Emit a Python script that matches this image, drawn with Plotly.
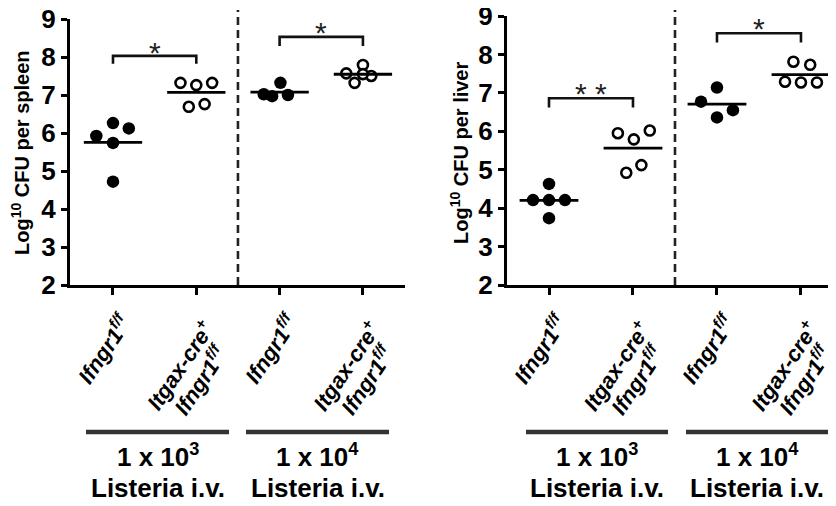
import numpy as np
import plotly.graph_objects as go

# ---------------- data ----------------
categories = ["Ifngr1 f/f (1e3)", "Itgax-cre+ Ifngr1 f/f (1e3)",
              "Ifngr1 f/f (1e4)", "Itgax-cre+ Ifngr1 f/f (1e4)"]
# each category label, one entry per text line
tick_labels = [["Ifngr1<sup>f/f</sup>"],
               ["Itgax-cre<sup>+</sup>", "Ifngr1<sup>f/f</sup>"],
               ["Ifngr1<sup>f/f</sup>"],
               ["Itgax-cre<sup>+</sup>", "Ifngr1<sup>f/f</sup>"]]
y_ticks = [2, 3, 4, 5, 6, 7, 8, 9]

spleen_g1 = [5.92, 6.26, 6.12, 5.74, 4.72]
spleen_g2 = [7.32, 7.26, 7.32, 6.69, 6.76]
spleen_g3 = [7.02, 6.97, 7.32, 7.00]
spleen_g4 = [7.57, 7.79, 7.32, 7.50, 7.55]

liver_g1 = [4.21, 4.21, 4.21, 4.63, 3.74]
liver_g2 = [5.95, 5.79, 6.02, 4.92, 5.12]
liver_g3 = [6.77, 7.14, 6.55, 6.36]
liver_g4 = [7.81, 7.73, 7.29, 7.27, 7.27]

# horizontal scatter spread of the points (layout, in category units)
spleen_jitter = [[-0.20, 0.00, 0.19, 0.00, 0.00],
                 [-0.19, 0.00, 0.19, -0.09, 0.10],
                 [-0.19, -0.09, 0.01, 0.10],
                 [-0.20, 0.00, -0.10, 0.10, 0.00]]
liver_jitter = [[-0.19, 0.00, 0.19, 0.00, 0.00],
                [-0.18, 0.01, 0.20, -0.08, 0.10],
                [-0.19, 0.00, 0.19, 0.00],
                [-0.09, 0.11, -0.19, 0.00, 0.19]]

dose_labels = ["1 x 10<sup>3</sup>", "1 x 10<sup>4</sup>"]
route_label = "Listeria i.v."
significance = [["*", "*"], ["* *", "*"]]

FONT = "Liberation Sans, Arial, sans-serif"
W, H = 836, 506
OFF = 8  # page body margin of the html page

def px2x(px):
    return (px - OFF) / W

def px2y(py):
    return 1 - (py - OFF) / H

fig = go.Figure()

panels = [
    dict(groups=[spleen_g1, spleen_g2, spleen_g3, spleen_g4], jit=spleen_jitter,
         xa="x", ya="y", title="Log<sup>10</sup> CFU per spleen",
         xdom=[px2x(70), px2x(405)], ydom=[px2y(285), px2y(19)],
         xrange=[-0.516, 3.505], title_x=20,
         brackets=[(0, 1, 8.03, 7.82, 8.13), (2, 3, 8.53, 8.29, 8.65)],
         stars=significance[0],
         lines=[(86, 229), (246, 389)]),
    dict(groups=[liver_g1, liver_g2, liver_g3, liver_g4], jit=liver_jitter,
         xa="x2", ya="y2", title="Log<sup>10</sup> CFU per liver",
         xdom=[px2x(507), px2x(836)], ydom=[px2y(285), px2y(16)],
         xrange=[-0.5, 3.417], title_x=459,
         brackets=[(0, 1, 6.86, 6.62, 6.99), (2, 3, 8.55, 8.31, 8.67)],
         stars=significance[1],
         lines=[(526, 668), (686, 828)]),
]

# centre of each label line relative to its tick: (dx px, y px)
single_pos = [(-9, 348)]
double_pos = [(-17, 365), (4, 379)]

shapes = []
annotations = []

for p in panels:
    for gi, vals in enumerate(p["groups"]):
        xs = [gi + j for j in p["jit"][gi]]
        filled = gi % 2 == 0
        fig.add_trace(go.Scatter(
            x=xs, y=vals, mode="markers", xaxis=p["xa"], yaxis=p["ya"],
            marker=dict(size=12.5 if filled else 10,
                        color="black" if filled else "white",
                        line=dict(color="black", width=0 if filled else 2.6)),
            showlegend=False, cliponaxis=False))
        m = float(np.mean(vals))
        fig.add_trace(go.Scatter(
            x=[gi - 0.35, gi + 0.35], y=[m, m], mode="lines",
            xaxis=p["xa"], yaxis=p["ya"],
            line=dict(color="black", width=2.8), showlegend=False))
    # rotated category labels
    for gi, lines in enumerate(tick_labels):
        pos = single_pos if len(lines) == 1 else double_pos
        for txt, (dx, yy) in zip(lines, pos):
            annotations.append(dict(x=gi, y=px2y(yy), xref=p["xa"], yref="paper",
                                    text=txt, textangle=-56, showarrow=False,
                                    xanchor="center", yanchor="middle", xshift=dx,
                                    font=dict(family=FONT, size=22, color="black",
                                              weight="bold", style="italic")))
    # dashed separator
    shapes.append(dict(type="line", xref=p["xa"], yref="paper", x0=1.5, x1=1.5,
                       y0=p["ydom"][0], y1=px2y(10),
                       line=dict(color="#222", width=2.6, dash="8px,5px")))
    # brackets
    for (a, b, top, leg, sy), s in zip(p["brackets"], p["stars"]):
        shapes.append(dict(type="path", xref=p["xa"], yref=p["ya"],
                           path=f"M {a},{leg} L {a},{top} L {b},{top} L {b},{leg}",
                           line=dict(color="#111", width=2.6)))
        annotations.append(dict(x=(a + b) / 2, y=sy, xref=p["xa"], yref=p["ya"],
                                text=s, showarrow=False, xanchor="center",
                                font=dict(family=FONT, size=30, color="#222"),
                                yanchor="middle"))
    # y title
    annotations.append(dict(x=px2x(p["title_x"]), y=px2y(153), xref="paper", yref="paper",
                            text=p["title"], textangle=-90, showarrow=False,
                            xanchor="center", yanchor="middle",
                            font=dict(family=FONT, size=20, color="black", weight="bold")))
    # group lines + labels
    for (l0, l1), dl in zip(p["lines"], dose_labels):
        shapes.append(dict(type="line", xref="paper", yref="paper",
                           x0=px2x(l0), x1=px2x(l1), y0=px2y(432), y1=px2y(432),
                           line=dict(color="#333", width=4.5)))
        cx = px2x((l0 + l1) / 2)
        annotations.append(dict(x=cx, y=px2y(455), xref="paper", yref="paper",
                                text=dl, showarrow=False, xanchor="center", yanchor="middle",
                                font=dict(family=FONT, size=26, color="black", weight="bold")))
        annotations.append(dict(x=cx, y=px2y(488), xref="paper", yref="paper",
                                text=route_label, showarrow=False, xanchor="center",
                                yanchor="middle",
                                font=dict(family=FONT, size=26, color="black", weight="bold")))

def xaxis_cfg(p):
    return dict(domain=p["xdom"], range=p["xrange"], tickvals=[0, 1, 2, 3],
                showticklabels=False, showline=True, linewidth=3,
                linecolor="black", ticks="outside", ticklen=7, tickwidth=3,
                tickcolor="black", showgrid=False, zeroline=False, automargin=False)

def yaxis_cfg(p, anchor):
    return dict(domain=p["ydom"], range=[2, 9], tickvals=y_ticks, anchor=anchor,
                showline=True, linewidth=3, linecolor="black", ticks="outside",
                ticklen=6, tickwidth=3, tickcolor="black", showgrid=False,
                zeroline=False, ticklabelstandoff=0, automargin=False,
                ticklabeloverflow="allow",
                tickfont=dict(family=FONT, size=26, color="black", weight="bold"))

fig.update_layout(
    width=W, height=H, margin=dict(l=0, r=0, t=0, b=0, autoexpand=False),
    paper_bgcolor="white", plot_bgcolor="white",
    xaxis=dict(**xaxis_cfg(panels[0]), anchor="y"),
    yaxis=yaxis_cfg(panels[0], "x"),
    xaxis2=dict(**xaxis_cfg(panels[1]), anchor="y2"),
    yaxis2=yaxis_cfg(panels[1], "x2"),
    shapes=shapes, annotations=annotations, showlegend=False,
)

fig.write_html("out.html")
